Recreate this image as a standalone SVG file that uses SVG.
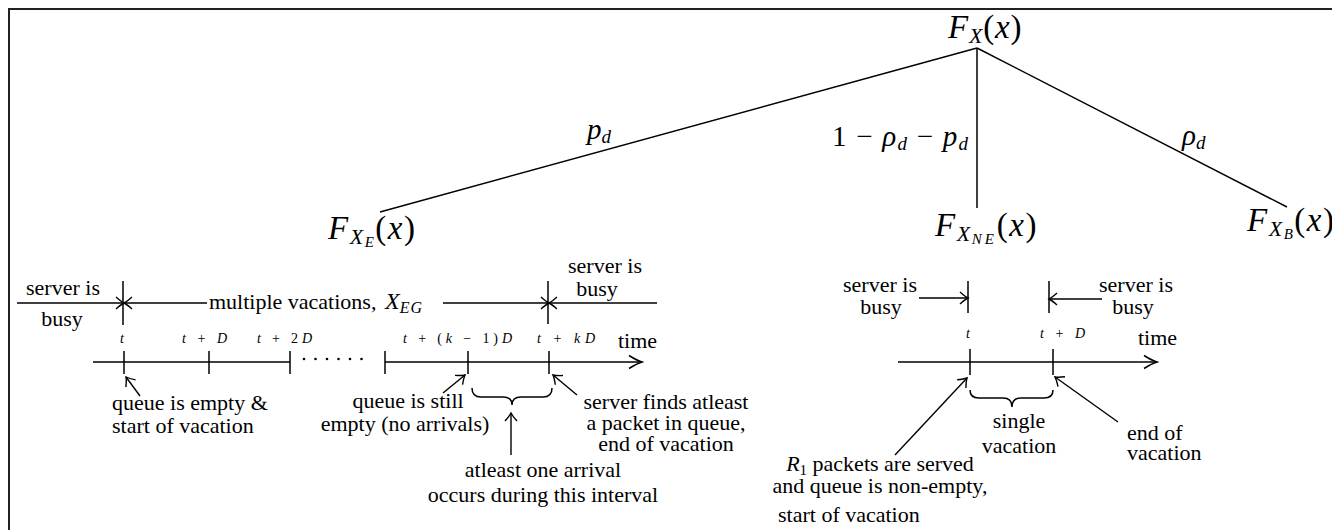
<svg xmlns="http://www.w3.org/2000/svg" width="1332" height="530" viewBox="0 0 1332 530">
<style>
.tx{font-family:"Liberation Serif","DejaVu Serif",serif;font-size:22px;fill:#000}
.m{font-family:"Liberation Serif","DejaVu Serif",serif;font-style:italic;fill:#000}
.up{font-style:normal}
.tk{font-family:"Liberation Serif","DejaVu Serif",serif;font-style:italic;font-size:14px;fill:#000}
.ln{stroke:#000;stroke-width:1.5;fill:none}
.a{stroke:#000;stroke-width:1.4;fill:none;marker-end:url(#ah)}
.axis{stroke:#000;stroke-width:1.5;fill:none;marker-end:url(#ahL)}
</style>
<defs>
<marker id="ah" viewBox="-10 -8 12 16" refX="0" refY="0" markerWidth="12" markerHeight="16" markerUnits="userSpaceOnUse" orient="auto-start-reverse">
<path d="M-8,-6 Q-3,-1.5 0,0 Q-3,1.5 -8,6" fill="none" stroke="#000" stroke-width="1.4"/>
</marker>
<marker id="ahL" viewBox="-16 -8 18 16" refX="0" refY="0" markerWidth="18" markerHeight="16" markerUnits="userSpaceOnUse" orient="auto">
<path d="M-13,-6.5 Q-5,-1.5 0,0 Q-5,1.5 -13,6.5" fill="none" stroke="#000" stroke-width="1.5"/>
</marker>
</defs>
<rect x="0" y="0" width="1332" height="530" fill="#fff"/>
<rect x="9" y="9" width="1400" height="600" fill="none" stroke="#222" stroke-width="2"/>

<g id="connectors">
<line class="ln" x1="977" y1="48" x2="380" y2="212"/>
<line class="ln" x1="977" y1="48" x2="977" y2="208"/>
<line class="ln" x1="977" y1="48" x2="1287" y2="207"/>
<text class="m" x="587" y="139" font-size="29">p<tspan font-size="19" dy="4">d</tspan></text>
<text class="m" x="832" y="146" font-size="29" textLength="136"><tspan class="up">1 − </tspan>ρ<tspan font-size="19" dy="4">d</tspan><tspan class="up" dy="-4"> − </tspan>p<tspan font-size="19" dy="4">d</tspan></text>
<text class="m" x="1182" y="145" font-size="29">ρ<tspan font-size="19" dy="4">d</tspan></text>
</g>

<g id="node-FX">
<text class="m" x="948" y="38" font-size="33" letter-spacing="0.8">F<tspan font-size="22" dy="5">X</tspan><tspan class="up" dy="-5">(</tspan>x<tspan class="up">)</tspan></text>
</g>
<g id="node-FXE">
<text class="m" x="328" y="239" font-size="33" letter-spacing="1.5">F<tspan font-size="22" dy="5">X</tspan><tspan font-size="15" dy="3">E</tspan><tspan class="up" dy="-8">(</tspan>x<tspan class="up">)</tspan></text>
</g>
<g id="node-FXNE">
<text class="m" x="935" y="236" font-size="33" letter-spacing="1.5">F<tspan font-size="22" dy="5">X</tspan><tspan font-size="15" dy="3" letter-spacing="3">NE</tspan><tspan class="up" dy="-8">(</tspan>x<tspan class="up">)</tspan></text>
</g>
<g id="node-FXB">
<text class="m" x="1247" y="231" font-size="33" letter-spacing="1.5">F<tspan font-size="22" dy="5">X</tspan><tspan font-size="15" dy="3">B</tspan><tspan class="up" dy="-8">(</tspan>x<tspan class="up">)</tspan></text>
</g>

<g id="timeline-multiple">
<text class="tx" x="63" y="295" text-anchor="middle">server is</text>
<text class="tx" x="62" y="326" text-anchor="middle">busy</text>
<line class="ln" x1="17" y1="303" x2="124" y2="303" style="marker-end:url(#ah)"/>
<line class="ln" x1="207" y1="303" x2="124" y2="303" style="marker-end:url(#ah)"/>
<line class="ln" x1="443" y1="303" x2="549" y2="303" style="marker-end:url(#ah)"/>
<line class="ln" x1="657" y1="303" x2="549" y2="303" style="marker-end:url(#ah)"/>
<line class="ln" x1="123" y1="281" x2="123" y2="325"/>
<line class="ln" x1="548" y1="281" x2="548" y2="324"/>
<text class="tx" x="209" y="309">multiple vacations, <tspan x="385" font-style="italic" font-size="24">X</tspan><tspan font-style="italic" font-size="16" dy="4" letter-spacing="1">EG</tspan></text>
<text class="tx" x="605" y="273" text-anchor="middle">server is</text>
<text class="tx" x="597" y="296" text-anchor="middle">busy</text>

<line class="ln" x1="93" y1="362" x2="290" y2="362"/>
<line class="ln" x1="124" y1="351" x2="124" y2="374"/>
<line class="ln" x1="209" y1="351" x2="209" y2="374"/>
<line class="ln" x1="290" y1="351" x2="290" y2="374"/>
<g fill="#000">
<circle cx="304" cy="359" r="1.3"/><circle cx="315.5" cy="359" r="1.3"/><circle cx="327" cy="359" r="1.3"/><circle cx="338.5" cy="359" r="1.3"/><circle cx="350" cy="359" r="1.3"/><circle cx="361.5" cy="359" r="1.3"/>
</g>
<line class="axis" x1="385" y1="362" x2="642" y2="362"/>
<line class="ln" x1="385" y1="351" x2="385" y2="374"/>
<line class="ln" x1="468" y1="351" x2="468" y2="374"/>
<line class="ln" x1="549" y1="351" x2="549" y2="374"/>
<text class="tk" x="122" y="343" text-anchor="middle">t</text>
<text class="tk" x="182" y="343" textLength="45">t <tspan class="up">+</tspan> D</text>
<text class="tk" x="257" y="343" textLength="55">t <tspan class="up">+ 2</tspan>D</text>
<text class="tk" x="403" y="343" textLength="109">t <tspan class="up">+ (</tspan>k <tspan class="up">− 1)</tspan>D</text>
<text class="tk" x="537" y="343" textLength="58">t <tspan class="up">+</tspan> kD</text>
<text class="tx" x="618" y="348">time</text>

<line class="a" x1="140" y1="396" x2="126" y2="377"/>
<text class="tx" x="112" y="410">queue is empty &amp;</text>
<text class="tx" x="112" y="433">start of vacation</text>
<line class="a" x1="443" y1="393" x2="465" y2="375"/>
<text class="tx" x="408" y="408" text-anchor="middle">queue is still</text>
<text class="tx" x="405" y="431" text-anchor="middle">empty (no arrivals)</text>
<path class="ln" d="M472,388 Q472,397 481,397 L503,397 Q512,397 512,405 Q512,397 521,397 L543,397 Q552,397 552,388"/>
<line class="a" x1="511" y1="455" x2="511" y2="413"/>
<text class="tx" x="543" y="477" text-anchor="middle">atleast one arrival</text>
<text class="tx" x="543" y="502" text-anchor="middle">occurs during this interval</text>
<line class="a" x1="577" y1="395" x2="553" y2="375"/>
<text class="tx" x="666" y="409" text-anchor="middle">server finds atleast</text>
<text class="tx" x="666" y="430" text-anchor="middle">a packet in queue,</text>
<text class="tx" x="666" y="451" text-anchor="middle">end of vacation</text>
</g>

<g id="timeline-single">
<text class="tx" x="880" y="292" text-anchor="middle">server is</text>
<text class="tx" x="881" y="314" text-anchor="middle">busy</text>
<line class="a" x1="919" y1="298" x2="968" y2="298"/>
<line class="ln" x1="968" y1="281" x2="968" y2="313"/>
<line class="ln" x1="1049" y1="281" x2="1049" y2="313"/>
<line class="a" x1="1102" y1="299" x2="1049" y2="299"/>
<text class="tx" x="1136" y="292" text-anchor="middle">server is</text>
<text class="tx" x="1133" y="314" text-anchor="middle">busy</text>
<text class="tk" x="968" y="338" text-anchor="middle">t</text>
<text class="tk" x="1040" y="338" textLength="45">t <tspan class="up">+</tspan> D</text>
<text class="tx" x="1138" y="345">time</text>
<line class="axis" x1="898" y1="362" x2="1157" y2="362"/>
<line class="ln" x1="970" y1="349" x2="970" y2="375"/>
<line class="ln" x1="1053" y1="349" x2="1053" y2="375"/>
<path class="ln" d="M970,390 Q970,398 979,398 L1003,398 Q1012,398 1012,407 Q1012,398 1021,398 L1044,398 Q1053,398 1053,390"/>
<text class="tx" x="1019" y="428" text-anchor="middle">single</text>
<text class="tx" x="1019" y="453" text-anchor="middle">vacation</text>
<line class="a" x1="895" y1="455" x2="967" y2="378"/>
<line class="a" x1="1118" y1="422" x2="1055" y2="377"/>
<text class="tx" x="1127" y="440">end of</text>
<text class="tx" x="1127" y="460">vacation</text>
<text class="tx" x="880" y="471" text-anchor="middle"><tspan font-style="italic">R</tspan><tspan font-size="15" dy="4">1</tspan><tspan dy="-4"> packets are served</tspan></text>
<text class="tx" x="880" y="493" text-anchor="middle">and queue is non-empty,</text>
<text class="tx" x="778" y="522">start of vacation</text>
</g>
</svg>
